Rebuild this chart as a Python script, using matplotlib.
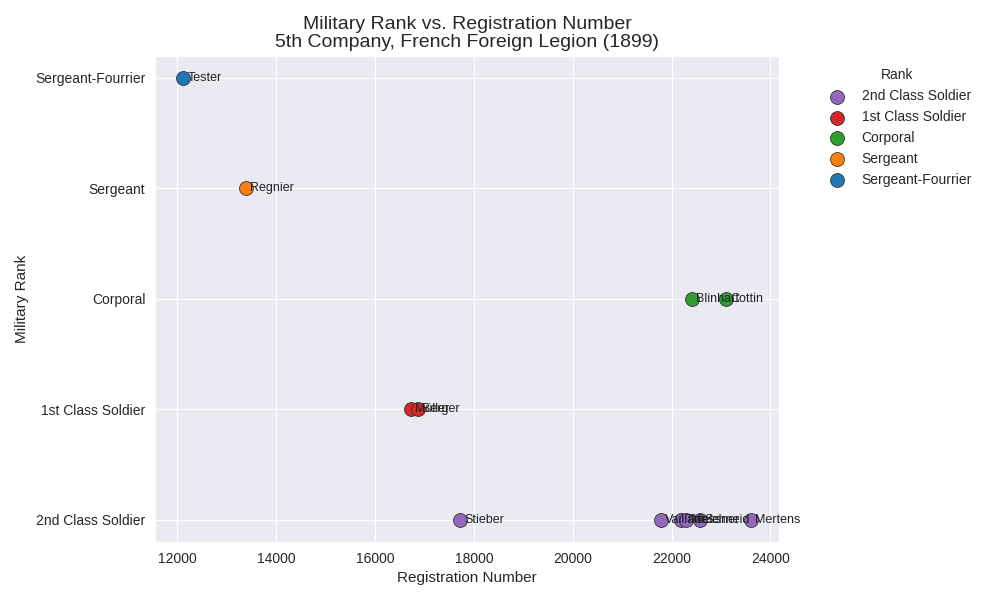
import matplotlib
matplotlib.use("Agg")
import matplotlib.pyplot as plt
import seaborn as sns

sns.set_style("darkgrid")
plt.rcParams['font.family'] = ['Liberation Sans', 'DejaVu Sans']

# rank order on the y axis
ranks = ["2nd Class Soldier", "1st Class Soldier", "Corporal", "Sergeant", "Sergeant-Fourrier"]
rank_colors = ["#9467bd", "#d62728", "#2ca02c", "#ff7f0e", "#1f77b4"]

# soldiers
names = ["Tester", "Regnier", "Müller", "Berger", "Blinhart", "Cottin",
         "Stieber", "Vaillant", "Thiele", "Messner", "Schneid", "Mertens"]
reg_numbers = [12120, 13390, 16730, 16870, 22420, 23110,
               17720, 21780, 22200, 22300, 22570, 23600]
soldier_ranks = ["Sergeant-Fourrier", "Sergeant", "1st Class Soldier", "1st Class Soldier",
                 "Corporal", "Corporal", "2nd Class Soldier", "2nd Class Soldier",
                 "2nd Class Soldier", "2nd Class Soldier", "2nd Class Soldier", "2nd Class Soldier"]

fig, ax = plt.subplots(figsize=(10, 6), dpi=100)
fig.subplots_adjust(left=0.155, right=0.779, top=0.907, bottom=0.097)

for rank, col in zip(ranks, rank_colors):
    xs = [x for x, r in zip(reg_numbers, soldier_ranks) if r == rank]
    ys = [ranks.index(rank)] * len(xs)
    ax.scatter(xs, ys, s=100, color=col, edgecolor="#333333", linewidth=0.6,
               label=rank, zorder=3)

for n, x, r in zip(names, reg_numbers, soldier_ranks):
    ax.annotate(n, (x, ranks.index(r)), xytext=(3, 0), textcoords="offset points",
                fontsize=9, va="center", color="#222222", zorder=4)

ax.set_yticks(range(len(ranks)))
ax.set_yticklabels(ranks)
ax.set_xlabel("Registration Number", fontsize=11)
ax.set_ylabel("Military Rank", fontsize=11)
ax.set_title("Military Rank vs. Registration Number\n5th Company, French Foreign Legion (1899)",
             fontsize=14, linespacing=1.15)
ax.legend(title="Rank", loc="upper left", bbox_to_anchor=(1.05, 1.0), frameon=False)

plt.savefig("out.png")
